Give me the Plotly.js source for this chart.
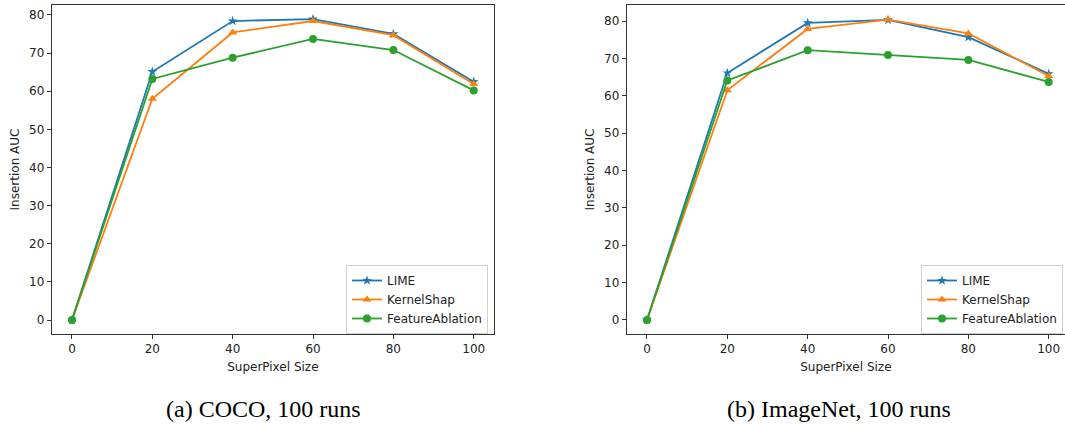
<!DOCTYPE html>
<html>
<head>
<meta charset="utf-8">
<script src="https://cdn.plot.ly/plotly-3.0.1.min.js"></script>
<style>html,body{margin:0;padding:0;background:#fff}#chart{width:1065px;height:425px}</style>
</head>
<body>
<div id="chart"></div>
<script>
// ---- data ----
const superPixelSize = [0, 20, 40, 60, 80, 100];
const seriesNames = ["LIME", "KernelShap", "FeatureAblation"];
const cocoLIME = [0, 65.1, 78.4, 78.9, 75.0, 62.5];
const cocoKernelShap = [0, 58.0, 75.4, 78.4, 74.7, 61.9];
const cocoFeatureAblation = [0, 63.2, 68.8, 73.7, 70.8, 60.2];
const imagenetLIME = [0, 66.1, 79.5, 80.3, 75.7, 65.9];
const imagenetKernelShap = [0, 61.5, 77.9, 80.4, 76.7, 65.3];
const imagenetFeatureAblation = [0, 64.1, 72.2, 70.9, 69.6, 63.7];
const xTickVals = [0, 20, 40, 60, 80, 100];
const yTickVals = [0, 10, 20, 30, 40, 50, 60, 70, 80];
const captions = ["(a) COCO, 100 runs", "(b) ImageNet, 100 runs"];
const xTitle = "SuperPixel Size";
const yTitle = "Insertion AUC";

// ---- styles ----
const colors = ["#1f77b4", "#ff7f0e", "#2ca02c"];
const symbols = ["star", "triangle-up", "circle"];
const msizes = [7.5, 8, 8];
const font = {family: "DejaVu Sans", size: 12, color: "#222"};

function mk(y, i, sub) {
  return {
    x: superPixelSize, y: y, name: seriesNames[i], type: "scatter", mode: "lines+markers",
    xaxis: sub === 1 ? "x" : "x2", yaxis: sub === 1 ? "y" : "y2",
    legend: sub === 1 ? "legend" : "legend2",
    line: {color: colors[i], width: 1.8},
    marker: {symbol: symbols[i], size: msizes[i], color: colors[i], line: {width: 0}}
  };
}
const traces = [
  mk(cocoLIME, 0, 1), mk(cocoKernelShap, 1, 1), mk(cocoFeatureAblation, 2, 1),
  mk(imagenetLIME, 0, 2), mk(imagenetKernelShap, 1, 2), mk(imagenetFeatureAblation, 2, 2)
];

const W = 1065, H = 425;
function axX(dom, range) {
  return {
    domain: dom, range: range, tickvals: xTickVals, ticks: "outside", ticklen: 4, tickcolor: "#333",
    showline: true, mirror: true, linecolor: "#333", linewidth: 1, showgrid: false, zeroline: false,
    tickfont: font, title: {text: xTitle, font: font, standoff: 7}, automargin: false
  };
}
function axY(range) {
  return {
    domain: [1 - 334 / H, 1 - 5 / H], range: range, tickvals: yTickVals, ticks: "outside", ticklen: 4,
    tickcolor: "#333", showline: true, mirror: true, linecolor: "#333", linewidth: 1, showgrid: false,
    zeroline: false, tickfont: font, title: {text: yTitle, font: font, standoff: 6}, automargin: false
  };
}
const legendStyle = {
  font: font, bgcolor: "rgba(255,255,255,0.8)", bordercolor: "#d0d0d0", borderwidth: 1,
  xanchor: "left", yanchor: "top", yref: "paper", xref: "paper", tracegroupgap: 0
};

const layout = {
  width: W, height: H, margin: {l: 0, r: 0, t: 0, b: 0},
  paper_bgcolor: "#fff", plot_bgcolor: "#fff", font: font,
  xaxis: axX([51.7 / W, 494 / W], [-5.05, 105.05]),
  yaxis: axY([-3.67, 82.6]),
  xaxis2: axX([626.7 / W, 1], [-5.05, 104.06]),
  yaxis2: Object.assign(axY([-3.75, 84.3]), {anchor: "x2"}),
  legend: Object.assign({}, legendStyle, {x: 346 / W, y: 1 - 265 / H}),
  legend2: Object.assign({}, legendStyle, {x: 921 / W, y: 1 - 265 / H}),
  annotations: [
    {text: captions[0], x: 263 / W, y: 1 - 409 / H, xref: "paper", yref: "paper", showarrow: false,
     xanchor: "center", yanchor: "middle", font: {family: "Liberation Serif", size: 24, color: "#000"}},
    {text: captions[1], x: 838.5 / W, y: 1 - 409 / H, xref: "paper", yref: "paper", showarrow: false,
     xanchor: "center", yanchor: "middle", font: {family: "Liberation Serif", size: 24, color: "#000"}}
  ],
  showlegend: true
};
layout.xaxis.anchor = "y";
layout.xaxis2.anchor = "y2";
layout.yaxis.anchor = "x";

Plotly.newPlot("chart", traces, layout, {staticPlot: true, displayModeBar: false});
</script>
</body>
</html>
